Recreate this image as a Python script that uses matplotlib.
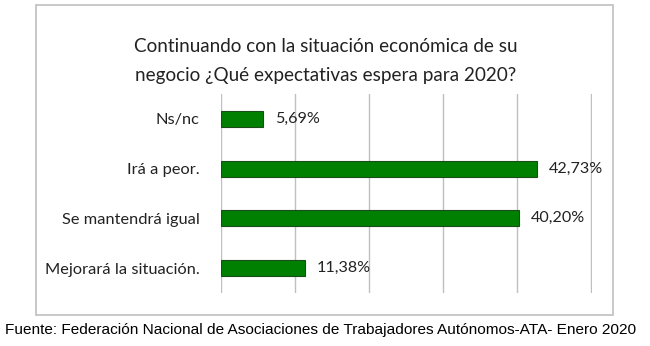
import matplotlib
matplotlib.use("Agg")
import matplotlib.pyplot as plt
from matplotlib.patches import Rectangle

# data
categories = ["Ns/nc", "Irá a peor.", "Se mantendrá igual", "Mejorará la situación."]
values = [5.69, 42.73, 40.20, 11.38]
xticks = [0, 10, 20, 30, 40, 50]

title = ("Continuando con la situación económica de su\n"
         "negocio ¿Qué expectativas espera para 2020?")
source = ("Fuente: Federación Nacional de Asociaciones de Trabajadores "
          "Autónomos-ATA- Enero 2020")

W, H = 650, 346
fig = plt.figure(figsize=(W / 100, H / 100), dpi=100)

# outer chart frame
fig.patches.append(Rectangle((36 / W, 1 - 315 / H), (613 - 36) / W, (315 - 5) / H,
                             transform=fig.transFigure, fill=False,
                             edgecolor="#bfbfbf", linewidth=1.2))

ax = fig.add_axes([221 / W, 1 - 293 / H, (592 - 221) / W, (293 - 94) / H])
y = list(range(len(categories)))
ax.barh(y, values, height=0.32, color="#008000", edgecolor="#1b4d1b", linewidth=0.8,
        zorder=3)
ax.set_xlim(0, 50.1)
ax.set_ylim(len(categories) - 0.5, -0.5)
ax.set_xticks(xticks)
ax.xaxis.grid(True, color="#bfbfbf", linewidth=1.0, zorder=0)
ax.tick_params(axis="x", bottom=False, labelbottom=False)
ax.tick_params(axis="y", left=False, pad=12)
ax.set_yticks(y)
ax.set_yticklabels(categories, fontsize=11.8, family="Lato", color="#222222")
for s in ax.spines.values():
    s.set_visible(False)

for yi, v in zip(y, values):
    ax.text(v + 1.6, yi, ("%.2f%%" % v).replace(".", ","), va="center", ha="left",
            fontsize=11.6, family="Lato", color="#222222")

fig.text(326 / W, 1 - 61 / H, title, ha="center", va="center", fontsize=13.6,
         family="Lato", color="#222222", linespacing=1.8)

fig.text(5 / W, 1 - 330 / H, source, ha="left", va="center", fontsize=11.1,
         family="Liberation Sans", color="black")

fig.savefig("out.png", dpi=100)
